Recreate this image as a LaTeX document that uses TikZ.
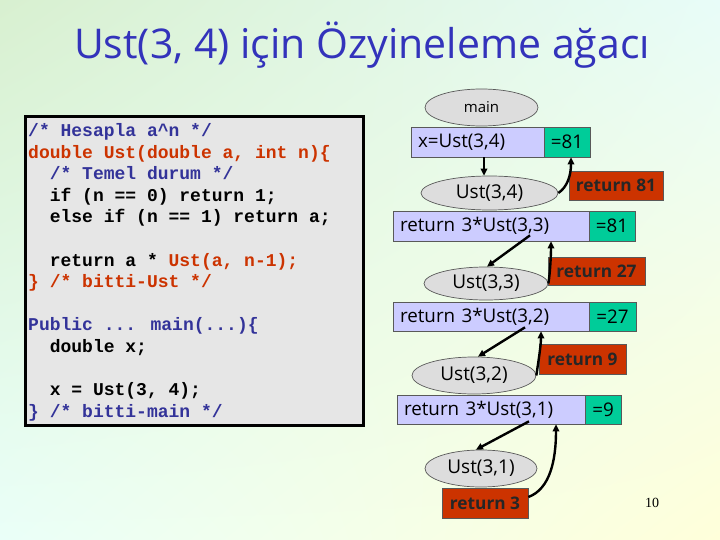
\documentclass[tikz,border=0pt]{standalone}
\usepackage{fontspec}
\setmainfont{Open Sans}
\newfontfamily\codefont{Liberation Mono}
\newfontfamily\pgnumfont{Liberation Serif}
\usetikzlibrary{arrows.meta,shapes.geometric,shadings}
\definecolor{ttl}{HTML}{3333BB}
\definecolor{cblue}{HTML}{333399}
\definecolor{cred}{HTML}{CC3300}
\definecolor{lav}{HTML}{CCCCFF}
\definecolor{teal81}{HTML}{00CC99}
\definecolor{retred}{HTML}{CC3300}
\definecolor{ellgray}{HTML}{DDDDDD}
\definecolor{codegray}{HTML}{E6E6E6}
\definecolor{bgA}{HTML}{D8F0D0}
\definecolor{bgB}{HTML}{E8FCF8}
\definecolor{bgC}{HTML}{EAFFF8}
\definecolor{bgD}{HTML}{FFFFDA}
\begin{document}
\begin{tikzpicture}[x=1pt,y=-1pt,
  callell/.style={ellipse, draw=black!65, fill=ellgray, line width=0.7pt, inner sep=0pt,
    font=\fontsize{19}{22}\selectfont},
  callbox/.style={rectangle, draw=black!65, fill=lav, line width=0.7pt, inner ysep=0pt,
    inner xsep=7pt, align=left, font=\fontsize{18.8}{21}\selectfont},
  resbox/.style={rectangle, draw=black!65, fill=teal81, line width=0.7pt, inner sep=0pt,
    font=\fontsize{18.8}{21}\selectfont},
  retbox/.style={rectangle, draw=black!65, fill=retred, line width=0.7pt, inner sep=0pt,
    text=black!85, font=\bfseries\fontsize{17.3}{20}\selectfont},
  arr/.style={-{Triangle[length=7pt,width=6.5pt]}, line width=2.4pt, black},
  codeln/.style={anchor=base west, inner sep=0pt, font=\codefont\bfseries\fontsize{18}{21.6}\selectfont}
]
\useasboundingbox (0,0) rectangle (720,540);
\shade[upper left=bgA, upper right=bgB, lower left=bgC, lower right=bgD] (0,0) rectangle (720,540);

% title
\node[text=ttl, font=\fontsize{41}{46}\selectfont] (title) at (362,45) {Ust(3, 4) için Özyineleme ağacı};

% code box
\node[draw=black, line width=3pt, fill=codegray, minimum width=338pt, minimum height=308pt, inner sep=0pt] (codebox) at (194,271) {};
\node[codeln, text=cblue] (c1) at (28,136.5) {/* Hesapla a\textasciicircum n */};
\node[codeln, text=cred] (c2) at (28,158.1) {double Ust(double a, int n)\{};
\node[codeln, text=cblue] (c3) at (49.6,179.7) {/* Temel durum */};
\node[codeln, text=black] (c4) at (49.6,201.3) {if (n == 0) return 1;};
\node[codeln, text=black] (c5) at (49.6,222.9) {else if (n == 1) return a;};
\node[codeln, text=black] (c6) at (49.6,266.1) {return a * \textcolor{cred}{Ust(a, n-1);}};
\node[codeln, text=cred] (c7) at (28,287.7) {\} /* bitti-Ust */};
\node[codeln, text=cblue] (c8) at (28,330.9) {Public ... main(...)\{};
\node[codeln, text=black] (c9) at (49.6,352.5) {double x;};
\node[codeln, text=black] (c10) at (49.6,395.7) {x = Ust(3, 4);};
\node[codeln, text=cblue] (c11) at (28,417.3) {\} /* bitti-main */};

% tree
\node[callell, minimum width=113pt, minimum height=37pt, font=\fontsize{15}{18}\selectfont] (main) at (481.5,107.5) {main};
\node[callbox, minimum height=30pt, text width=119pt] (xbox) at (477.5,142) {x=Ust(3,4)};
\node[resbox, minimum width=46pt, minimum height=30pt] (eqa) at (567,142) {=81};

\node[callell, minimum width=137pt, minimum height=34pt] (u34) at (489.5,193) {Ust(3,4)};
\node[retbox, minimum width=94pt, minimum height=29pt] (ret81) at (616,185.5) {return 81};

\node[callbox, minimum height=30pt, text width=182pt] (r33) at (491,226) {return 3*Ust(3,3)};
\node[resbox, minimum width=46pt, minimum height=30pt] (eqb) at (612,226) {=81};

\node[callell, minimum width=124pt, minimum height=33pt] (u33) at (486,283.5) {Ust(3,3)};
\node[retbox, minimum width=97pt, minimum height=28pt] (ret27) at (596.5,271) {return 27};

\node[callbox, minimum height=29pt, text width=182pt] (r32) at (491,316.5) {return 3*Ust(3,2)};
\node[resbox, minimum width=47pt, minimum height=29pt] (eqc) at (612.5,316.5) {=27};

\node[callell, minimum width=124pt, minimum height=37pt] (u32) at (474,375.5) {Ust(3,2)};
\node[retbox, minimum width=87pt, minimum height=30pt] (ret9) at (582.5,359) {return 9};

\node[callbox, minimum height=29pt, text width=174pt] (r31) at (491,409.5) {return 3*Ust(3,1)};
\node[resbox, minimum width=36pt, minimum height=29pt] (eqd) at (603,409.5) {=9};

\node[callell, minimum width=112pt, minimum height=37pt] (u31) at (481,468.5) {Ust(3,1)};
\node[retbox, minimum width=86pt, minimum height=30pt] (ret3) at (485,503) {return 3};

% arrows
\draw[arr] ([xshift=6.5pt]xbox.south) -- ([xshift=6.5pt]xbox.south |- u34.north);
\draw[arr] (u34.east) .. controls +(9,-6) and +(0,18) .. ([xshift=4pt]eqa.south);
\draw[arr] ([xshift=39pt,yshift=6pt]r33.south) -- ([xshift=1pt]u33.north);
\draw[arr] (u33.east) .. controls +(2,-12) and +(0,12) .. ([xshift=60pt]r33.south);
\draw[arr] ([xshift=34pt,yshift=4pt]r32.south) -- ([xshift=4pt]u32.north);
\draw[arr] (u32.east) .. controls +(2,-14) and +(0,14) .. ([xshift=50pt]r32.south);
\draw[arr] ([xshift=38pt,yshift=3pt]r31.south) -- ([xshift=-5pt]u31.north);
\draw[arr] ([yshift=6pt]ret3.east) .. controls +(22,-8) and +(0,35) .. ([xshift=65pt]r31.south);

% page number
\node[font=\pgnumfont\fontsize{14}{16}\selectfont] (pgnum) at (652,503) {10};
\end{tikzpicture}
\end{document}
